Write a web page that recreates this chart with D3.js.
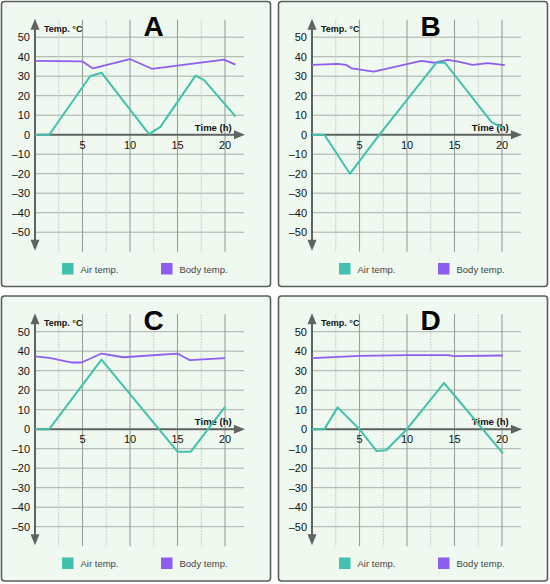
<!DOCTYPE html>
<html>
<head>
<meta charset="utf-8">
<script src="https://cdn.jsdelivr.net/npm/d3@7"></script>
<style>
  html, body { margin: 0; padding: 0; background: #fff; }
  svg { display: block; font-family: "Liberation Sans", Arial, sans-serif; }
</style>
</head>
<body>
<svg id="chart" width="550" height="584"></svg>
<script>
// Four panels: air vs body temperature over time (h)
const panels = ["A", "B", "C", "D"];

const airA = [[0, 0], [1.5, 0], [5.8, 30], [7, 31.8], [12, 0.3], [13.2, 4], [16.9, 30.3], [17.8, 28], [21.1, 9.4]];
const bodyA = [[0, 37.9], [5, 37.6], [6.1, 34], [10, 38.8], [12.3, 33.8], [19.9, 38.5], [21.1, 35.9]];

const airB = [[0, 0], [1.3, 0], [4, -20], [7.1, 0], [13.1, 36.9], [14, 36.9], [18.9, 6.5], [20.2, 3.2]];
const bodyB = [[0, 35.8], [2.7, 36.3], [3.6, 35.8], [4.2, 34], [6.5, 32.4], [11.5, 37.9], [12.9, 36.9],
               [14.3, 38.4], [15.4, 37.5], [16.9, 35.8], [18.5, 36.7], [20.3, 35.7]];

const airC = [[0, 0], [1.5, 0], [7, 35.7], [15, -11.5], [16.4, -11.5], [20, 11.5]];
const bodyC = [[0, 37.3], [1.5, 36.6], [3.9, 34.2], [4.9, 34.2], [7, 38.8], [9.3, 36.9], [15, 38.8],
               [16.3, 35.4], [20, 36.4]];

const airD = [[0, 0], [1.3, 0], [2.7, 11.2], [5, 0], [6.8, -11.2], [7.8, -10.8], [10, 0], [13.9, 23.7], [20.1, -12.4]];
const bodyD = [[0, 36.4], [5, 37.6], [10, 38], [14.3, 38], [15, 37.5], [20.1, 37.8]];

const airSeries = [airA, airB, airC, airD];
const bodySeries = [bodyA, bodyB, bodyC, bodyD];

const yTicks = [50, 40, 30, 20, 10, 0, -10, -20, -30, -40, -50];
const xTicks = [5, 10, 15, 20];
const xGrid = [2.5, 5, 7.5, 10, 12.5, 15, 17.5, 20];
const legendLabels = ["Air temp.", "Body temp."];

const COL = { air: "#40c2ae", body: "#8f5ef0", bg: "#eff9ef", frame: "#5a5f5a",
              axis: "#5f6460", major: "#9aa09a", minor: "#c9cec9", hgrid: "#a9aea9", text: "#111" };

const PW = 269, PH = 285;
const slots = [[1.5, 1.5], [278.5, 1.5], [1.5, 296], [278.5, 296]];
const OX = 33.5, OY = 133.2, UX = 9.5, UY = 1.95;

const svg = d3.select("#chart");
const x = d3.scaleLinear().domain([0, 22]).range([OX, OX + 22 * UX]);
const y = d3.scaleLinear().domain([-59, 59]).range([OY + 59 * UY, OY - 59 * UY]);
const line = d3.line().x(d => x(d[0])).y(d => y(d[1]));
const fmt = v => v < 0 ? "–" + Math.abs(v) : String(v);

panels.forEach((name, i) => {
  const g = svg.append("g").attr("transform", `translate(${slots[i][0]},${slots[i][1]})`);

  g.append("rect").attr("width", PW).attr("height", PH).attr("rx", 3)
    .attr("fill", COL.bg).attr("stroke", COL.frame).attr("stroke-width", 1.6);

  // grid
  g.selectAll(".hg").data(yTicks).join("line")
    .attr("x1", x(0)).attr("x2", x(22)).attr("y1", d => y(d)).attr("y2", d => y(d))
    .attr("stroke", COL.hgrid).attr("stroke-width", 1);
  g.selectAll(".vg").data(xGrid).join("line")
    .attr("x1", d => x(d)).attr("x2", d => x(d)).attr("y1", y(59)).attr("y2", y(-60))
    .attr("stroke", d => d % 5 === 0 ? COL.major : COL.minor)
    .attr("stroke-width", d => d % 5 === 0 ? 1.1 : 1)
    .attr("stroke-dasharray", d => d % 5 === 0 ? null : "2 1");

  // axes with arrows
  g.append("line").attr("x1", x(0)).attr("x2", x(0)).attr("y1", y(55)).attr("y2", y(-55))
    .attr("stroke", COL.axis).attr("stroke-width", 2);
  g.append("line").attr("x1", x(0)).attr("x2", x(21.2)).attr("y1", y(0)).attr("y2", y(0))
    .attr("stroke", COL.axis).attr("stroke-width", 2);
  const ax = x(0), top = y(59.5), bot = y(-59.5), right = x(22.1), zy = y(0);
  g.append("path").attr("fill", COL.axis)
    .attr("d", `M${ax},${top} L${ax - 4.5},${top + 11} L${ax + 4.5},${top + 11} Z`);
  g.append("path").attr("fill", COL.axis)
    .attr("d", `M${ax},${bot} L${ax - 4.5},${bot - 11} L${ax + 4.5},${bot - 11} Z`);
  g.append("path").attr("fill", COL.axis)
    .attr("d", `M${right},${zy} L${right - 11},${zy - 4.5} L${right - 11},${zy + 4.5} Z`);

  // tick labels
  g.selectAll(".yl").data(yTicks).join("text")
    .attr("x", x(0) - 5).attr("y", d => y(d) + 4).attr("text-anchor", "end")
    .attr("font-size", 11).attr("fill", COL.text).text(fmt);
  g.selectAll(".xl").data(xTicks).join("text")
    .attr("x", d => x(d)).attr("y", y(0) + 14).attr("text-anchor", "middle")
    .attr("font-size", 11).attr("fill", COL.text).text(d => d);

  g.append("text").attr("x", x(0) + 9).attr("y", 30).attr("font-size", 9).attr("font-weight", "bold")
    .attr("fill", COL.text).text("Temp. °C");
  g.append("text").attr("x", x(20.7)).attr("y", y(0) - 4).attr("text-anchor", "end")
    .attr("font-size", 9.5).attr("font-weight", "bold").attr("fill", COL.text).text("Time (h)");

  g.append("text").attr("x", 152).attr("y", 34).attr("text-anchor", "middle")
    .attr("font-size", 28).attr("font-weight", "bold").attr("fill", "#000").text(name);

  // series
  g.append("path").datum(bodySeries[i]).attr("d", line).attr("fill", "none")
    .attr("stroke", COL.body).attr("stroke-width", 1.8).attr("stroke-linejoin", "round");
  g.append("path").datum(airSeries[i]).attr("d", line).attr("fill", "none")
    .attr("stroke", COL.air).attr("stroke-width", 2).attr("stroke-linejoin", "round");

  // legend
  const lx = [60.5, 159.5];
  legendLabels.forEach((lab, k) => {
    g.append("rect").attr("x", lx[k]).attr("y", 261.5).attr("width", 11.5).attr("height", 11.5)
      .attr("fill", k === 0 ? COL.air : COL.body);
    g.append("text").attr("x", lx[k] + 18.5).attr("y", 271).attr("font-size", 9.5)
      .attr("fill", "#444").text(lab);
  });
});
</script>
</body>
</html>
